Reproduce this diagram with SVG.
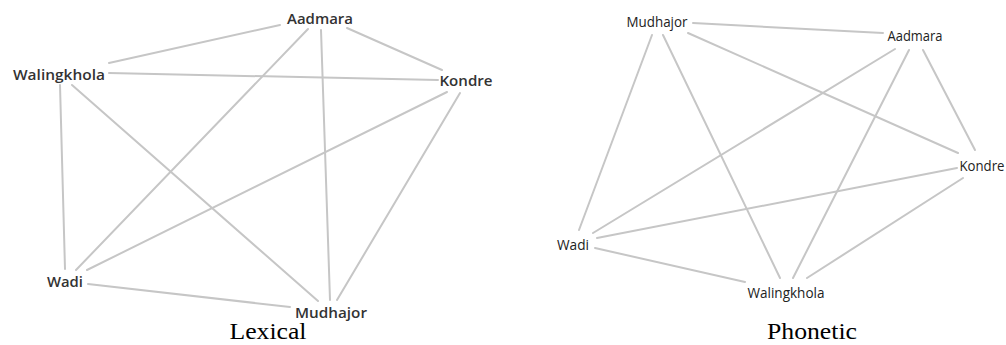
<svg xmlns="http://www.w3.org/2000/svg" width="1006" height="345" viewBox="0 0 1006 345">
<style>
.e{stroke:#c6c6c6;stroke-width:2;fill:none;stroke-linecap:round}
.l{font-family:"Open Sans","Liberation Sans",sans-serif;font-size:14px;font-weight:600;fill:#333;text-anchor:middle}
.r{font-family:"Open Sans","Liberation Sans",sans-serif;font-size:14px;font-weight:400;fill:#222;text-anchor:middle}
.cap{font-family:"Liberation Serif","Times New Roman",serif;font-size:24px;fill:#000;text-anchor:middle}
</style>
<rect width="1006" height="345" fill="#fff"/>
<g id="lexical-edges">
<line class="e" x1="280" y1="25" x2="109" y2="63"/>
<line class="e" x1="347" y1="28" x2="442" y2="70"/>
<line class="e" x1="308" y1="29" x2="76" y2="270"/>
<line class="e" x1="321" y1="30" x2="330" y2="300"/>
<line class="e" x1="109" y1="73" x2="438" y2="80"/>
<line class="e" x1="60" y1="85" x2="65" y2="269"/>
<line class="e" x1="72" y1="85" x2="318" y2="301"/>
<line class="e" x1="447" y1="92" x2="87" y2="270"/>
<line class="e" x1="460" y1="93" x2="337" y2="300"/>
<line class="e" x1="88" y1="284" x2="290" y2="307"/>
</g>
<g id="lex-Aadmara"><text class="l" x="320" y="24" textLength="66" lengthAdjust="spacingAndGlyphs">Aadmara</text></g>
<g id="lex-Walingkhola"><text class="l" x="59" y="80" textLength="92" lengthAdjust="spacingAndGlyphs">Walingkhola</text></g>
<g id="lex-Kondre"><text class="l" x="466" y="86" textLength="53" lengthAdjust="spacingAndGlyphs">Kondre</text></g>
<g id="lex-Wadi"><text class="l" x="65" y="287" textLength="36" lengthAdjust="spacingAndGlyphs">Wadi</text></g>
<g id="lex-Mudhajor"><text class="l" x="331" y="318" textLength="72" lengthAdjust="spacingAndGlyphs">Mudhajor</text></g>
<text class="cap" x="268" y="339" textLength="77" lengthAdjust="spacingAndGlyphs">Lexical</text>

<g id="phonetic-edges">
<line class="e" x1="693" y1="23" x2="883" y2="33"/>
<line class="e" x1="652" y1="35" x2="579" y2="230"/>
<line class="e" x1="663" y1="35" x2="780" y2="278"/>
<line class="e" x1="688" y1="33" x2="958" y2="153"/>
<line class="e" x1="895" y1="49" x2="593" y2="233"/>
<line class="e" x1="909" y1="50" x2="793" y2="278"/>
<line class="e" x1="923" y1="50" x2="975" y2="150"/>
<line class="e" x1="957" y1="168" x2="597" y2="238"/>
<line class="e" x1="963" y1="178" x2="807" y2="278"/>
<line class="e" x1="595" y1="248" x2="745" y2="282"/>
</g>
<g id="pho-Mudhajor"><text class="r" x="657" y="27" textLength="61" lengthAdjust="spacingAndGlyphs">Mudhajor</text></g>
<g id="pho-Aadmara"><text class="r" x="915" y="41" textLength="55" lengthAdjust="spacingAndGlyphs">Aadmara</text></g>
<g id="pho-Kondre"><text class="r" x="982" y="171" textLength="45" lengthAdjust="spacingAndGlyphs">Kondre</text></g>
<g id="pho-Wadi"><text class="r" x="573" y="250" textLength="32" lengthAdjust="spacingAndGlyphs">Wadi</text></g>
<g id="pho-Walingkhola"><text class="r" x="786" y="298" textLength="77" lengthAdjust="spacingAndGlyphs">Walingkhola</text></g>
<text class="cap" x="812" y="339" textLength="90" lengthAdjust="spacingAndGlyphs">Phonetic</text>
</svg>
